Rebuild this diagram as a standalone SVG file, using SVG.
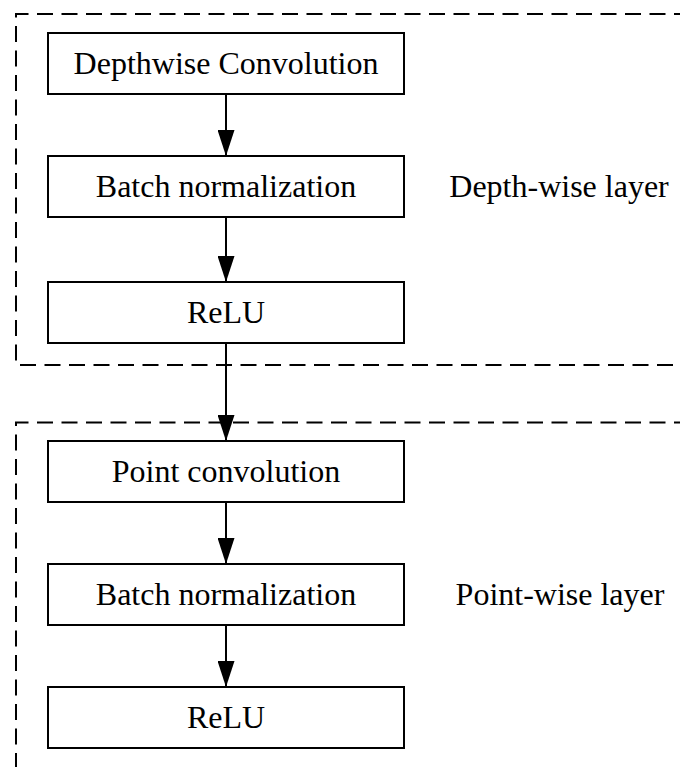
<svg xmlns="http://www.w3.org/2000/svg" width="680" height="767" viewBox="0 0 680 767">
<style>
.box{fill:#fff;stroke:#000;stroke-width:2}
.grp{fill:none;stroke:#000;stroke-width:2;stroke-dasharray:16 8.5}
.t{font-family:"Liberation Serif","Times New Roman",serif;font-size:32px;fill:#000;text-anchor:middle}
.c{stroke:#000;stroke-width:2;fill:none;marker-end:url(#ah)}
</style>
<defs>
<marker id="ah" markerUnits="userSpaceOnUse" markerWidth="26" markerHeight="17" refX="26" refY="8.5" orient="auto" viewBox="0 0 26 17">
<path d="M0,0 L26,8.5 L0,17 Z" fill="#000"/>
</marker>
</defs>
<g id="depthwise-group">
<path class="grp" d="M690,14 H16 V365 H690"/>
<text class="t" x="559" y="197">Depth-wise layer</text>
</g>
<g id="pointwise-group">
<path class="grp" d="M690,422.5 H16 V780"/>
<text class="t" x="560" y="605">Point-wise layer</text>
</g>
<g id="connectors">
<line class="c" x1="226" y1="94" x2="226" y2="156"/>
<line class="c" x1="226" y1="217" x2="226" y2="282"/>
<line class="c" x1="226" y1="343" x2="226" y2="441"/>
<line class="c" x1="226" y1="502" x2="226" y2="564"/>
<line class="c" x1="226" y1="625" x2="226" y2="687"/>
</g>
<g id="n1"><rect class="box" x="48" y="33" width="356" height="61"/><text class="t" x="226" y="74">Depthwise Convolution</text></g>
<g id="n2"><rect class="box" x="48" y="156" width="356" height="61"/><text class="t" x="226" y="197">Batch normalization</text></g>
<g id="n3"><rect class="box" x="48" y="282" width="356" height="61"/><text class="t" x="226" y="323">ReLU</text></g>
<g id="n4"><rect class="box" x="48" y="441" width="356" height="61"/><text class="t" x="226" y="482">Point convolution</text></g>
<g id="n5"><rect class="box" x="48" y="564" width="356" height="61"/><text class="t" x="226" y="605">Batch normalization</text></g>
<g id="n6"><rect class="box" x="48" y="687" width="356" height="61"/><text class="t" x="226" y="728">ReLU</text></g>
</svg>
